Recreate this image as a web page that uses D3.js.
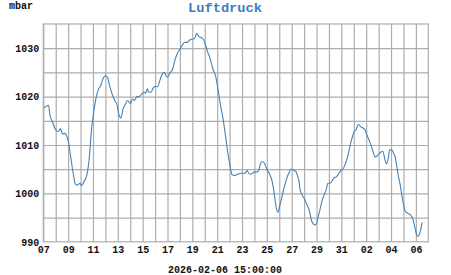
<!DOCTYPE html>
<html>
<head>
<meta charset="utf-8">
<script src="https://cdn.jsdelivr.net/npm/d3@7"></script>
<style>
  body { margin: 0; background: #fff; }
  svg text { font-family: "Liberation Mono", "DejaVu Sans Mono", monospace; font-weight: bold; }
</style>
</head>
<body>
<script>
// Luftdruck, Jan 7 - Feb 6 2026 (mbar)
const times = [
  "01-07 01:00","01-07 10:00","01-07 13:00","01-07 18:00","01-08 00:00","01-08 05:00","01-08 09:00","01-08 13:00",
  "01-08 18:00","01-08 21:00","01-09 00:00","01-09 05:00","01-09 10:00","01-09 14:00","01-09 18:00","01-09 23:00",
  "01-10 02:00","01-10 06:00","01-10 12:00","01-10 17:00","01-10 21:00","01-11 01:00","01-11 07:00","01-11 11:00",
  "01-11 15:00","01-11 19:00","01-12 00:00","01-12 04:00","01-12 08:00","01-12 13:00","01-12 18:00","01-12 23:00",
  "01-13 02:00","01-13 06:00","01-13 10:00","01-13 15:00","01-13 19:00","01-14 00:00","01-14 05:00","01-14 08:00",
  "01-14 13:00","01-14 17:00","01-14 22:00","01-15 03:00","01-15 06:00","01-15 09:00","01-15 12:00","01-15 16:00",
  "01-15 21:00","01-16 01:00","01-16 05:00","01-16 10:00","01-16 14:00","01-16 18:00","01-16 21:00","01-17 00:00",
  "01-17 04:00","01-17 10:00","01-17 14:00","01-17 19:00","01-18 00:00","01-18 05:00","01-18 09:00","01-18 14:00",
  "01-18 19:00","01-19 00:00","01-19 03:00","01-19 06:00","01-19 08:00","01-19 13:00","01-19 17:00","01-19 21:00",
  "01-20 02:00","01-20 06:00","01-20 10:00","01-20 16:00","01-20 21:00","01-21 02:00","01-21 06:00","01-21 12:00",
  "01-21 17:00","01-21 21:00","01-22 02:00","01-22 04:00","01-22 10:00","01-22 14:00","01-22 20:00","01-23 01:00",
  "01-23 05:00","01-23 10:00","01-23 14:00","01-23 18:00","01-23 23:00","01-24 04:00","01-24 08:00","01-24 12:00",
  "01-24 15:00","01-24 20:00","01-25 00:00","01-25 05:00","01-25 10:00","01-25 14:00","01-25 17:00","01-25 21:00",
  "01-26 01:00","01-26 05:00","01-26 08:00","01-26 13:00","01-26 18:00","01-26 23:00","01-27 04:00","01-27 09:00",
  "01-27 12:00","01-27 14:00","01-27 16:00","01-27 20:00","01-28 01:00","01-28 06:00","01-28 11:00","01-28 14:00",
  "01-28 17:00","01-28 21:00","01-29 00:00","01-29 03:00","01-29 07:00","01-29 11:00","01-29 14:00","01-29 19:00",
  "01-29 22:00","01-30 02:00","01-30 06:00","01-30 10:00","01-30 14:00","01-30 19:00","01-30 23:00","01-31 03:00",
  "01-31 08:00","01-31 12:00","01-31 16:00","01-31 20:00","02-01 00:00","02-01 05:00","02-01 09:00","02-01 13:00",
  "02-01 18:00","02-01 22:00","02-02 02:00","02-02 06:00","02-02 11:00","02-02 15:00","02-02 18:00","02-02 23:00",
  "02-03 04:00","02-03 08:00","02-03 12:00","02-03 15:00","02-03 19:00","02-03 21:00","02-04 01:00","02-04 05:00",
  "02-04 08:00","02-04 11:00","02-04 14:00","02-04 18:00","02-04 21:00","02-05 00:00","02-05 03:00","02-05 08:00",
  "02-05 13:00","02-05 16:00","02-05 19:00","02-05 22:00","02-06 01:00","02-06 04:00","02-06 07:00","02-06 10:00",
  "02-06 12:00"
];
const pressure = [
  1017.6,1018.2,1016.1,1014.7,1013.1,1012.8,1013.4,1012.3,
  1012.4,1011.9,1010.9,1007.5,1004.0,1001.9,1001.7,1002.1,
  1001.6,1002.3,1003.7,1007.5,1013.0,1016.5,1020.2,1021.6,
  1022.3,1023.6,1024.3,1024.0,1022.3,1020.5,1019.2,1018.1,
  1016.3,1015.6,1017.4,1018.5,1019.2,1018.6,1019.5,1019.2,
  1020.0,1020.0,1020.5,1020.9,1020.7,1021.6,1020.9,1020.9,
  1021.9,1022.1,1022.1,1023.6,1024.7,1025.0,1024.3,1024.0,
  1024.8,1025.7,1027.4,1028.9,1029.8,1030.7,1031.2,1031.2,
  1031.7,1031.9,1031.9,1032.4,1033.1,1032.4,1032.2,1031.9,
  1030.5,1029.1,1028.0,1025.6,1024.3,1021.2,1018.5,1015.0,
  1011.2,1008.1,1005.0,1004.0,1003.7,1003.9,1004.1,1004.2,
  1004.1,1004.7,1004.0,1004.0,1004.4,1004.4,1004.7,1006.2,
  1006.6,1006.1,1005.0,1004.0,1002.6,1000.2,997.8,996.1,
  997.5,999.2,1000.6,1002.6,1004.1,1005.0,1004.8,1004.4,
  1003.3,1002.6,1000.9,999.7,998.8,997.5,996.1,994.5,
  993.8,993.5,993.8,995.1,996.8,998.6,999.5,1000.9,
  1002.1,1002.1,1002.6,1003.2,1003.4,1004.1,1004.7,1005.0,
  1006.2,1007.5,1009.5,1011.2,1012.6,1013.3,1014.3,1013.8,
  1013.5,1013.1,1011.9,1010.9,1009.4,1008.0,1007.5,1008.0,
  1008.5,1008.7,1007.1,1006.1,1007.5,1009.0,1009.0,1008.3,
  1007.5,1005.7,1003.7,1001.6,999.5,997.8,996.4,995.9,
  995.6,995.2,994.4,993.0,991.6,991.1,991.6,992.9,
  994.0
];
const yTicks = [990, 1000, 1010, 1020, 1030];
const timeStart = "2026-01-07 00:00";
const timeEnd = "2026-02-07 00:00";
const title = "Luftdruck";
const unit = "mbar";
const stamp = "2026-02-06 15:00:00";

const width = 451,
  height = 275,
  margin = { top: 24, right: 22.7, bottom: 33.2, left: 43.3 };

const parse = d3.timeParse("%Y-%m-%d %H:%M");
const data = times.map((t, i) => ({ t: parse("2026-" + t), v: pressure[i] }));

const svg = d3
  .select("body")
  .append("svg")
  .attr("width", width)
  .attr("height", height);

const x = d3
  .scaleTime()
  .domain([parse(timeStart), parse(timeEnd)])
  .range([margin.left, width - margin.right]);

const y = d3
  .scaleLinear()
  .domain([990, 1035])
  .range([height - margin.bottom, margin.top]);

const plotW = width - margin.left - margin.right,
  plotH = height - margin.top - margin.bottom;

// grid
const days = d3.timeDay.range(parse(timeStart), parse(timeEnd));
svg
  .append("g")
  .attr("class", "grid-x")
  .attr("transform", `translate(0,${height - margin.bottom})`)
  .call(d3.axisBottom(x).tickValues(days).tickSize(-plotH).tickFormat(""))
  .call(g => g.select(".domain").remove());

svg
  .append("g")
  .attr("class", "grid-y")
  .attr("transform", `translate(${margin.left},0)`)
  .call(d3.axisLeft(y).tickValues(d3.range(995, 1035, 5)).tickSize(-plotW).tickFormat(""))
  .call(g => g.select(".domain").remove());

svg.selectAll(".grid-x line, .grid-y line").attr("stroke", "#adadad").attr("stroke-width", 1.2);

svg
  .append("rect")
  .attr("x", margin.left)
  .attr("y", margin.top)
  .attr("width", plotW)
  .attr("height", plotH)
  .attr("fill", "none")
  .attr("stroke", "#adadad")
  .attr("stroke-width", 1.2);

// axis labels
const xLabelDays = days.filter((d, i) => i % 2 === 0);
svg
  .append("g")
  .attr("transform", `translate(0,${height - margin.bottom})`)
  .call(d3.axisBottom(x).tickValues(xLabelDays).tickSize(0).tickPadding(4.6).tickFormat(d3.timeFormat("%d")))
  .call(g => g.select(".domain").remove())
  .selectAll("text")
  .attr("font-size", 10)
  .attr("font-family", null)
  .attr("fill", "#111");

svg
  .append("g")
  .attr("transform", `translate(${margin.left},0)`)
  .call(d3.axisLeft(y).tickValues(yTicks).tickSize(0).tickPadding(4).tickFormat(d3.format("d")))
  .call(g => g.select(".domain").remove())
  .selectAll("text")
  .attr("font-size", 10)
  .attr("font-family", null)
  .attr("fill", "#111");

// line
const line = d3
  .line()
  .x(d => x(d.t))
  .y(d => y(d.v))
  .curve(d3.curveMonotoneX);

svg
  .append("path")
  .datum(data)
  .attr("d", line)
  .attr("fill", "none")
  .attr("stroke", "#4682b4")
  .attr("stroke-width", 1.1);

// texts
svg
  .append("text")
  .attr("x", 225)
  .attr("y", 12)
  .attr("text-anchor", "middle")
  .attr("font-size", 13.7)
  .attr("fill", "#3a80c0")
  .text(title);

svg
  .append("text")
  .attr("x", 9)
  .attr("y", 8.5)
  .attr("font-size", 10)
  .attr("fill", "#111")
  .text(unit);

svg
  .append("text")
  .attr("x", 225)
  .attr("y", 273.3)
  .attr("text-anchor", "middle")
  .attr("font-size", 10)
  .attr("fill", "#111")
  .text(stamp);
</script>
</body>
</html>
